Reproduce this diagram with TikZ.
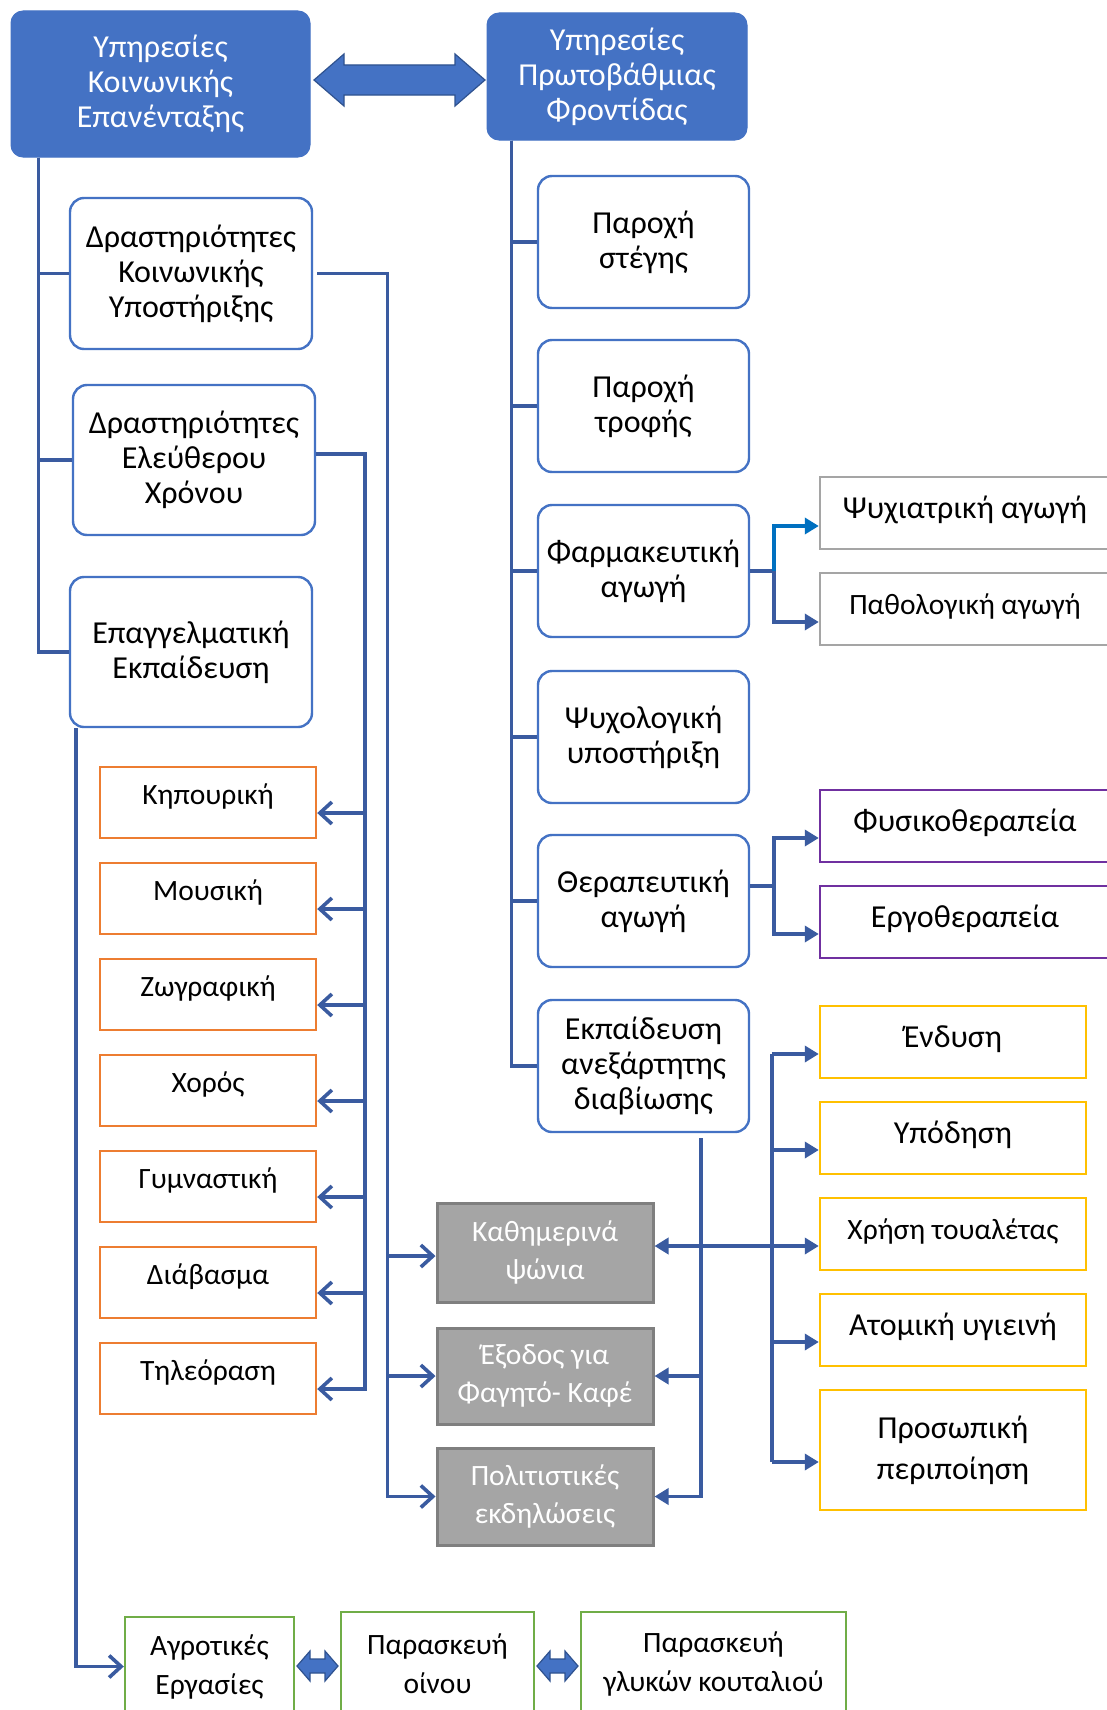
\documentclass[tikz,border=0pt]{standalone}
\usepackage{fontspec}
\setmainfont{Carlito}
\usetikzlibrary{arrows.meta}

\definecolor{accent}{HTML}{4472C4}
\definecolor{accentdark}{HTML}{2F528F}
\definecolor{wireblue}{HTML}{3A5BA0}
\definecolor{brightblue}{HTML}{0070C0}
\definecolor{orangeline}{HTML}{ED7D31}
\definecolor{greyline}{HTML}{A5A5A5}
\definecolor{greyfill}{HTML}{A5A5A5}
\definecolor{greyedge}{HTML}{7F7F7F}
\definecolor{purpleline}{HTML}{7030A0}
\definecolor{yellowline}{HTML}{FFC000}
\definecolor{greenline}{HTML}{70AD47}

% block double arrow: left x, right x, y, half head, half shaft, head length
\newcommand{\blockdoublearrow}[6]{%
  \filldraw[fill=accent, draw=accentdark, line width=1.2pt, line join=miter]
    (#1,#3) -- ({#1+#6},{#3-#4}) -- ({#1+#6},{#3-#5}) -- ({#2-#6},{#3-#5})
    -- ({#2-#6},{#3-#4}) -- (#2,#3) -- ({#2-#6},{#3+#4}) -- ({#2-#6},{#3+#5})
    -- ({#1+#6},{#3+#5}) -- ({#1+#6},{#3+#4}) -- cycle;}

\tikzset{
  txt/.style={align=center, inner sep=0pt, font=\fontsize{32}{35}\selectfont},
  smalltxt/.style={font=\fontsize{29.5}{#1}\selectfont},
  raised/.style={text height=#1, text depth=19pt},
  topbox/.style={txt, rounded corners=12pt, fill=accent, draw=accent, text=white, line width=1pt},
  softbox/.style={txt, rounded corners=14pt, draw=accent, fill=white, line width=2.4pt},
  orangebox/.style={txt, smalltxt=35, raised=22pt, draw=orangeline, line width=2.4pt,
    minimum width=216pt, minimum height=71pt},
  oneline/.style={text height=24pt, text depth=13pt},
  outlinebox/.style={txt, oneline, draw=greyline, line width=2.4pt, minimum width=290pt, minimum height=72pt},
  purplebox/.style={txt, oneline, draw=purpleline, line width=2.4pt, minimum width=290pt, minimum height=72pt},
  yellowbox/.style={txt, draw=yellowline, line width=2.4pt, minimum width=266pt, minimum height=72pt},
  shadedbox/.style={txt, smalltxt=38, fill=greyfill, draw=greyedge, text=white, line width=3pt, minimum width=216pt},
  greenbox/.style={txt, smalltxt=39, draw=greenline, line width=2.4pt},
  rightbox/.style={softbox, minimum width=211pt, minimum height=132pt},
  wire/.style={draw=wireblue, line width=3.6pt},
  openarr/.style={-{Straight Barb[length=12pt,width=22pt]}},
  fillarr/.style={-{Triangle[length=14pt,width=16pt]}},
  bothfill/.style={{Triangle[length=14pt,width=16pt]}-{Triangle[length=14pt,width=16pt]}},
}

\begin{document}
\begin{tikzpicture}[x=1pt, y=-1pt]
\useasboundingbox (0,0) rectangle (1107,1710);
\clip (0,0) rectangle (1107,1710);
\fill[white] (0,0) rectangle (1107,1710);

% top level services
\node[topbox, minimum width=299pt, minimum height=146pt] (A) at (160.5,84)
  {Υπηρεσίες\\Κοινωνικής\\Επανένταξης};
\node[topbox, minimum width=260pt, minimum height=127pt] (B) at (617,76.5)
  {Υπηρεσίες\\Πρωτοβάθμιας\\Φροντίδας};
\blockdoublearrow{314}{485}{80}{26}{15}{30}

% left column
\node[softbox, minimum width=242pt, minimum height=151pt] (C) at (191,273.5)
  {Δραστηριότητες\\Κοινωνικής\\Υποστήριξης};
\node[softbox, minimum width=242pt, minimum height=150pt] (D) at (194,460)
  {Δραστηριότητες\\Ελεύθερου\\Χρόνου};
\node[softbox, minimum width=242pt, minimum height=150pt] (E) at (191,652)
  {Επαγγελματική\\Εκπαίδευση};

% leisure activities
\node[orangebox] (o1) at (208,802.5) {Κηπουρική};
\node[orangebox] (o2) at (208,898.5) {Μουσική};
\node[orangebox] (o3) at (208,994.5) {Ζωγραφική};
\node[orangebox] (o4) at (208,1090.5) {Χορός};
\node[orangebox] (o5) at (208,1186.5) {Γυμναστική};
\node[orangebox] (o6) at (208,1282.5) {Διάβασμα};
\node[orangebox] (o7) at (208,1378.5) {Τηλεόραση};

% social support outings
\node[shadedbox, minimum height=99pt] (s1) at (545,1252.5) {Καθημερινά\\ψώνια};
\node[shadedbox, minimum height=96pt] (s2) at (545,1376) {Έξοδος για\\Φαγητό- Καφέ};
\node[shadedbox, minimum height=97pt] (s3) at (545,1496.5) {Πολιτιστικές\\εκδηλώσεις};

% vocational training
\node[greenbox, minimum width=169pt, minimum height=99pt] (a1) at (209.5,1666.5) {Αγροτικές\\Εργασίες};
\node[greenbox, minimum width=193pt, minimum height=104pt] (a2) at (437.5,1664) {Παρασκευή\\οίνου};
\node[greenbox, minimum width=265pt, minimum height=104pt] (a3) at (713.5,1664) {Παρασκευή\\γλυκών κουταλιού};
\blockdoublearrow{297}{338}{1666}{15}{7}{13}
\blockdoublearrow{537}{578}{1666}{15}{7}{13}

% primary care column
\node[rightbox] (r1) at (643.5,242) {Παροχή\\στέγης};
\node[rightbox] (r2) at (643.5,406) {Παροχή\\τροφής};
\node[rightbox] (r3) at (643.5,571) {Φαρμακευτική\\αγωγή};
\node[rightbox] (r4) at (643.5,737) {Ψυχολογική\\υποστήριξη};
\node[rightbox] (r5) at (643.5,901) {Θεραπευτική\\αγωγή};
\node[rightbox] (r6) at (643.5,1066) {Εκπαίδευση\\ανεξάρτητης\\διαβίωσης};

\node[outlinebox] (g1) at (965,513) {Ψυχιατρική αγωγή};
\node[outlinebox, smalltxt=35, oneline] (g2) at (965,609) {Παθολογική αγωγή};
\node[purplebox] (p1) at (965,826) {Φυσικοθεραπεία};
\node[purplebox] (p2) at (965,922) {Εργοθεραπεία};

\node[yellowbox, oneline] (y1) at (953,1042) {Ένδυση};
\node[yellowbox, oneline] (y2) at (953,1138) {Υπόδηση};
\node[yellowbox, smalltxt=35, oneline] (y3) at (953,1234) {Χρήση τουαλέτας};
\node[yellowbox, oneline] (y4) at (953,1330) {Ατομική υγιεινή};
\node[yellowbox, font=\fontsize{32}{41}\selectfont, minimum height=120pt] (y5) at (953,1450) {Προσωπική\\περιποίηση};

% left trunk
\coordinate (ltrunk) at ([xshift=28pt]A.south west);
\draw[wire] (ltrunk) |- (C.west);
\draw[wire] (ltrunk) |- (D.west);
\draw[wire] (ltrunk) |- (E.west);

% social support bus
\draw[wire, openarr] ([xshift=4pt]C.east) -| ([xshift=-48pt]s3.west) -- (s3.west);
\draw[wire, openarr] ([xshift=-48pt,yshift=-3.5pt]s1.west) -- ([yshift=-3.5pt]s1.west);
\draw[wire, openarr] ([xshift=-48pt]s2.west) -- (s2.west);

% leisure bus
\draw[wire, openarr] ([yshift=6pt]D.east) -| ([xshift=48pt,yshift=-10.5pt]o7.east) -- ([yshift=-10.5pt]o7.east);
\foreach \o in {o1,o2,o3,o4,o5,o6}{
  \draw[wire, openarr] ([xshift=48pt,yshift=-10.5pt]\o.east) -- ([yshift=-10.5pt]\o.east);
}

% vocational line
\draw[wire, openarr] ([xshift=7pt]E.south west) |- (a1.west);

% right trunk
\coordinate (rtrunk) at ([xshift=25pt]B.south west);
\foreach \r in {r1,r2,r3,r4,r5,r6}{
  \draw[wire] (rtrunk) |- (\r.west);
}

% medication fork
\coordinate (fk) at ([xshift=24pt]r3.east);
\draw[wire] (r3.east) -- (fk);
\draw[wire, fillarr] (fk) |- ([yshift=-13pt]g2.west);
\draw[draw=brightblue, line width=3.6pt, fillarr] (fk) |- ([yshift=-13pt]g1.west);

% therapy fork
\coordinate (tk) at ([xshift=24pt,yshift=15pt]r5.east);
\draw[wire] ([yshift=15pt]r5.east) -- (tk);
\draw[wire, fillarr] (tk) |- ([yshift=-12pt]p1.west);
\draw[wire, fillarr] (tk) |- ([yshift=-12pt]p2.west);

% independent living bus
\coordinate (ytop) at ([xshift=-47pt,yshift=-12pt]y1.west);
\coordinate (ybot) at ([xshift=-47pt,yshift=-12pt]y5.west);
\draw[wire] (ytop) -- (ybot);
\foreach \y in {y1,y2,y4,y5}{
  \draw[wire, fillarr] ([xshift=-47pt,yshift=-12pt]\y.west) -- ([yshift=-12pt]\y.west);
}
\coordinate (y3in) at ([yshift=-12pt]y3.west);
\draw[wire, bothfill] (y3in -| s1.east) -- (y3in);

% outings from independent living
\coordinate (eb) at ([xshift=57.5pt,yshift=-5pt]r6.south);
\draw[wire, fillarr] (eb) |- (s3.east);
\draw[wire, fillarr] (eb) |- (s2.east);
\end{tikzpicture}
\end{document}
